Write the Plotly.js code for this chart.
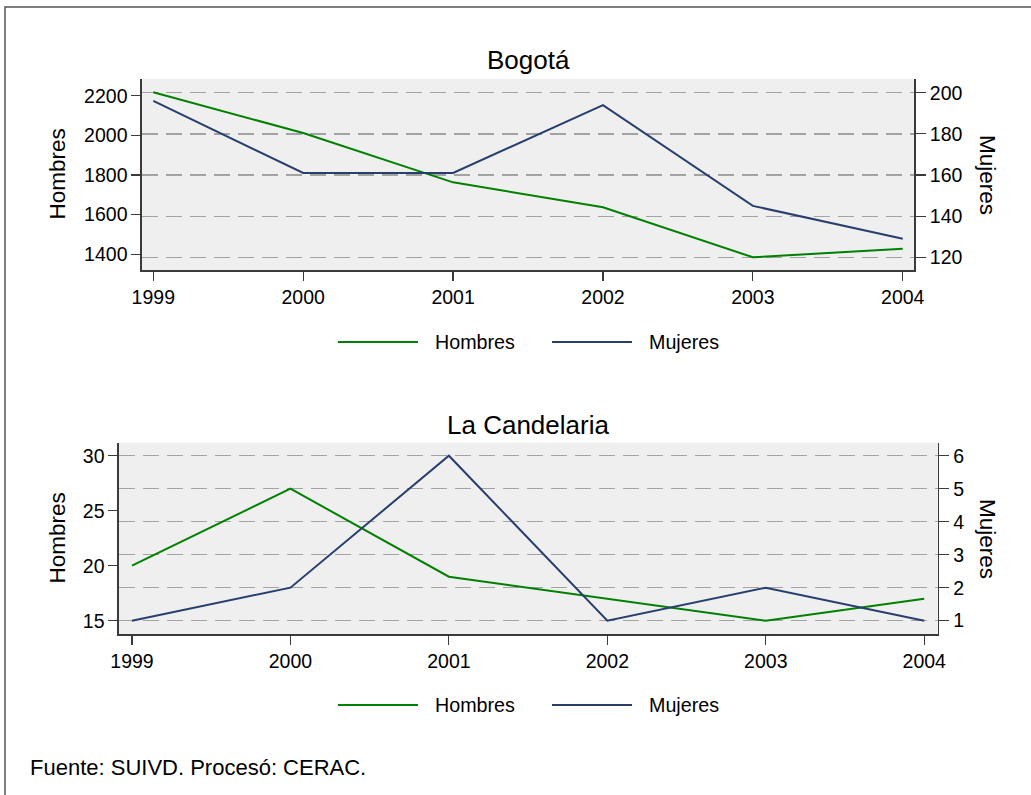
<!DOCTYPE html>
<html>
<head>
<meta charset="utf-8">
<script src="https://cdn.plot.ly/plotly-3.0.1.min.js"></script>
<style>html,body{margin:0;padding:0;background:#fff;}#chart{width:1031px;height:795px;}</style>
</head>
<body>
<div id="chart"></div>
<script>
// ---- data ----
const years = [1999, 2000, 2001, 2002, 2003, 2004];
const bogotaHombres = [2217, 2012, 1763, 1637, 1385, 1428];
const bogotaMujeres = [196, 161, 161, 194, 145, 129];
const candelariaHombres = [20, 27, 19, 17, 15, 17];
const candelariaMujeres = [1, 2, 6, 1, 2, 1];
const seriesNames = ["Hombres", "Mujeres"];
const panelTitles = ["Bogotá", "La Candelaria"];
const bogotaLeftTicks = [1400, 1600, 1800, 2000, 2200];
const bogotaRightTicks = [120, 140, 160, 180, 200];
const candelariaLeftTicks = [15, 20, 25, 30];
const candelariaRightTicks = [1, 2, 3, 4, 5, 6];
const footer = "Fuente: SUIVD. Procesó: CERAC.";

// ---- styles ----
const W = 1031, H = 795;
const px = v => v / W;
const py = v => 1 - v / H;
const FONT = "Liberation Sans, Arial, sans-serif";
const GREEN = "#008000";
const NAVY = "#283f6e";
const AXC = "#3a3a3a";
const tickFont = {family: FONT, size: 19.5, color: "#000"};

function xAxis(domain, range, anchor) {
  return {domain, range, anchor, tickvals: years, ticktext: years.map(String),
    showgrid: false, zeroline: false, showline: true, linecolor: AXC, linewidth: 1.6,
    ticks: "outside", ticklen: 9, tickwidth: 1.2, tickcolor: AXC, tickfont: tickFont, fixedrange: true};
}
function yLeft(domain, range, anchor, tickvals) {
  return {domain, range, anchor, tickvals, showgrid: false, zeroline: false,
    showline: true, linecolor: AXC, linewidth: 1.6, ticks: "outside", ticklen: 9,
    tickwidth: 1.2, tickcolor: AXC, tickfont: tickFont, fixedrange: true};
}
function yRight(overlay, range, anchor, tickvals) {
  return {overlaying: overlay, side: "right", range, anchor, tickvals,
    showgrid: true, gridcolor: "#a3a3a3", gridwidth: 1.3, griddash: "16px,8px",
    zeroline: false, showline: true, linecolor: AXC, linewidth: 1.6, ticks: "outside",
    ticklen: 10, tickwidth: 1.2, tickcolor: AXC, tickfont: tickFont, fixedrange: true};
}

const traces = [
  {x: years, y: bogotaHombres, xaxis: "x", yaxis: "y", name: seriesNames[0], mode: "lines", line: {color: GREEN, width: 2}},
  {x: years, y: bogotaMujeres, xaxis: "x", yaxis: "y2", name: seriesNames[1], mode: "lines", line: {color: NAVY, width: 2}},
  {x: years, y: candelariaHombres, xaxis: "x2", yaxis: "y3", name: seriesNames[0], mode: "lines", line: {color: GREEN, width: 2}},
  {x: years, y: candelariaMujeres, xaxis: "x2", yaxis: "y4", name: seriesNames[1], mode: "lines", line: {color: NAVY, width: 2}}
];

const topX = [px(142), px(914.3)];
const topY = [py(270), py(79)];
const botX = [px(119), px(937.7)];
const botY = [py(634), py(442.7)];

function legendItems(yc) {
  const sh = [
    {type: "line", xref: "paper", yref: "paper", x0: px(338), x1: px(418), y0: py(yc), y1: py(yc), line: {color: GREEN, width: 2}},
    {type: "line", xref: "paper", yref: "paper", x0: px(552), x1: px(632), y0: py(yc), y1: py(yc), line: {color: NAVY, width: 2}}
  ];
  const an = [
    {text: seriesNames[0], x: px(433), y: py(yc), xref: "paper", yref: "paper", xanchor: "left", yanchor: "middle", showarrow: false, font: {family: FONT, size: 19.7, color: "#000"}},
    {text: seriesNames[1], x: px(647), y: py(yc), xref: "paper", yref: "paper", xanchor: "left", yanchor: "middle", showarrow: false, font: {family: FONT, size: 19.7, color: "#000"}}
  ];
  return {sh, an};
}
const lg1 = legendItems(342);
const lg2 = legendItems(705);

const titleFont = {family: FONT, size: 26, color: "#000"};
const axTitleFont = {family: FONT, size: 22.5, color: "#000"};

const annotations = [
  {text: panelTitles[0], x: px(528), y: py(60), xref: "paper", yref: "paper", xanchor: "center", yanchor: "middle", showarrow: false, font: titleFont},
  {text: panelTitles[1], x: px(528), y: py(425), xref: "paper", yref: "paper", xanchor: "center", yanchor: "middle", showarrow: false, font: titleFont},
  {text: seriesNames[0], x: px(57), y: py(174.5), xref: "paper", yref: "paper", xanchor: "center", yanchor: "middle", textangle: -90, showarrow: false, font: axTitleFont},
  {text: seriesNames[1], x: px(987), y: py(175), xref: "paper", yref: "paper", xanchor: "center", yanchor: "middle", textangle: 90, showarrow: false, font: axTitleFont},
  {text: seriesNames[0], x: px(57), y: py(538.5), xref: "paper", yref: "paper", xanchor: "center", yanchor: "middle", textangle: -90, showarrow: false, font: axTitleFont},
  {text: seriesNames[1], x: px(988), y: py(539), xref: "paper", yref: "paper", xanchor: "center", yanchor: "middle", textangle: 90, showarrow: false, font: axTitleFont},
  {text: footer, x: px(28), y: py(767), xref: "paper", yref: "paper", xanchor: "left", yanchor: "middle", showarrow: false, font: {family: FONT, size: 22, color: "#000"}}
].concat(lg1.an, lg2.an);

const shapes = [
  {type: "rect", xref: "paper", yref: "paper", x0: px(5), x1: 1.02, y0: -0.02, y1: py(7), line: {color: "#555", width: 1.5}, fillcolor: "rgba(0,0,0,0)", layer: "below"}
].concat(lg1.sh, lg2.sh);

const layout = {
  width: W, height: H,
  margin: {l: 0, r: 0, t: 0, b: 0, pad: 0},
  paper_bgcolor: "#ffffff",
  plot_bgcolor: "#efefef",
  showlegend: false,
  font: {family: FONT, color: "#000"},
  xaxis: xAxis(topX, [1998.9246, 2004.077], "y"),
  yaxis: yLeft(topY, [1320.8, 2284.2], "x", bogotaLeftTicks),
  yaxis2: yRight("y", [113.83, 206.66], "x", bogotaRightTicks),
  xaxis2: xAxis(botX, [1998.918, 2004.085], "y3"),
  yaxis3: yLeft(botY, [13.79, 31.18], "x2", candelariaLeftTicks),
  yaxis4: yRight("y3", [0.596, 6.395], "x2", candelariaRightTicks),
  annotations, shapes
};

Plotly.newPlot("chart", traces, layout, {displayModeBar: false, staticPlot: true});
</script>
</body>
</html>
